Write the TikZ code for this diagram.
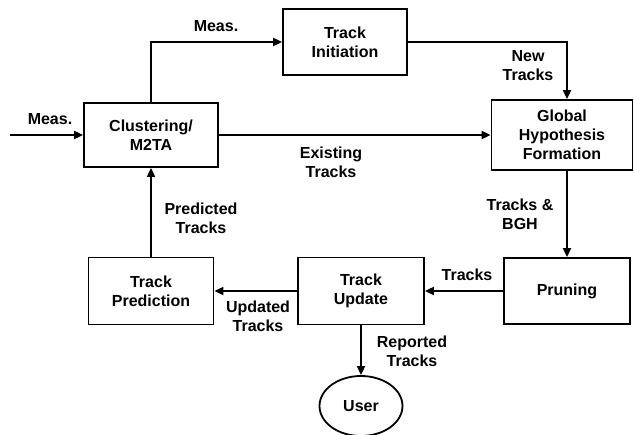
\documentclass[tikz,border=0pt]{standalone}
\usepackage{fontspec}
\setmainfont{Liberation Sans}
\usetikzlibrary{shapes.geometric,arrows.meta}
\begin{document}
\begin{tikzpicture}[x=1pt,y=-1pt,
    box/.style={draw,line width=1.8pt,align=center,inner sep=0pt,
      font=\bfseries\fontsize{16}{19}\selectfont},
    lbl/.style={align=center,inner sep=0pt,
      font=\bfseries\fontsize{16}{19}\selectfont},
    flow/.style={line width=1.8pt,-{Triangle[length=9pt,width=8pt]}}]
  \useasboundingbox (0,0) rectangle (634,435);
  % blocks
  \node[box,minimum width=134pt,minimum height=64pt] (clust) at (151,135) {Clustering/\\M2TA};
  \node[box,minimum width=124pt,minimum height=66pt] (init) at (345,42) {Track\\Initiation};
  \node[box,minimum width=141pt,minimum height=70pt] (glob) at (562,135) {Global\\Hypothesis\\Formation};
  \node[box,minimum width=125pt,minimum height=67pt] (pred) at (151,291) {Track\\Prediction};
  \node[box,minimum width=126pt,minimum height=67pt] (upd) at (361,291) {Track\\Update};
  \node[box,minimum width=126pt,minimum height=66pt] (prune) at (567,291) {Pruning};
  \node[box,ellipse,minimum width=83pt,minimum height=60pt] (user) at (361,406) {User};
  \coordinate (in) at (10,135);
  % labels
  \node[lbl] (l1) at (50,119) {Meas.};
  \node[lbl] (l2) at (216,26) {Meas.};
  \node[lbl] (l3) at (528,66) {New\\Tracks};
  \node[lbl] (l4) at (331,162) {Existing\\Tracks};
  \node[lbl] (l5) at (520,214) {Tracks \&\\BGH};
  \node[lbl] (l6) at (467,275) {Tracks};
  \node[lbl] (l7) at (258,316) {Updated\\Tracks};
  \node[lbl] (l8) at (201,218) {Predicted\\Tracks};
  \node[lbl] (l9) at (412,351) {Reported\\Tracks};
  % connections
  \draw[flow] (in) -- (clust.west);
  \draw[flow] (clust.north) |- (init.west);
  \draw[flow] (init.east) -| (prune.north |- glob.north);
  \draw[flow] (clust.east) -- (glob.west);
  \draw[flow] (prune.north |- glob.south) -- (prune.north);
  \draw[flow] (prune.west) -- (upd.east);
  \draw[flow] (upd.west) -- (pred.east);
  \draw[flow] (pred.north) -- (clust.south);
  \draw[flow] (upd.south) -- (user.north);
\end{tikzpicture}
\end{document}
